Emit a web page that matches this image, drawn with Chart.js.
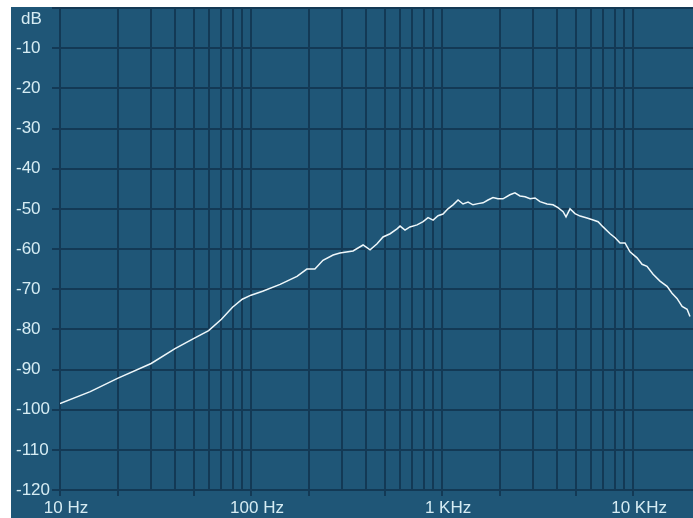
<!DOCTYPE html>
<html>
<head>
<meta charset="utf-8">
<script src="https://cdn.jsdelivr.net/npm/chart.js@4.4.1/dist/chart.umd.min.js"></script>
<style>
  html, body { margin: 0; padding: 0; background: #fff; }
  #wrap { position: absolute; left: 11px; top: 7px; width: 682px; height: 511px; }
</style>
</head>
<body>
<div id="wrap"><canvas id="spectrum" width="682" height="511" style="width:682px;height:511px"></canvas></div>
<script>
// frequency (Hz) / level (dB)
var freqs = [10, 14.4, 20, 30, 40, 50, 60, 70, 80, 90,
  100, 115, 142, 174, 196, 216, 238, 269, 292, 342,
  386, 420, 457, 491, 535, 581, 603, 640, 679, 740,
  796, 845, 898, 953, 1012, 1074, 1142, 1213, 1288, 1368,
  1453, 1543, 1640, 1741, 1849, 1963, 2085, 2267, 2408, 2559,
  2722, 2891, 3069, 3258, 3548, 3811, 4046, 4303, 4457, 4677,
  4966, 5284, 5741, 6180, 6561, 6966, 7586, 8054, 8551, 9078,
  9638, 10495, 11143, 11830, 12735, 13836, 15070, 15996, 16982, 18072,
  19187, 19861];
var levels = [-98.5, -95.5, -92.2, -88.5, -84.8, -82.3, -80.3, -77.5, -74.5, -72.5,
  -71.5, -70.5, -68.8, -66.8, -65, -65, -62.8, -61.5, -61, -60.5,
  -59, -60.2, -58.7, -57, -56.2, -55, -54.3, -55.3, -54.5, -54,
  -53.2, -52.2, -52.8, -51.7, -51.3, -50, -49, -47.8, -48.8, -48.3,
  -49, -48.7, -48.5, -47.8, -47.2, -47.5, -47.5, -46.5, -46, -46.8,
  -47, -47.5, -47.3, -48.2, -48.8, -49, -49.7, -50.7, -52, -50,
  -51.2, -51.8, -52.3, -52.8, -53.2, -54.5, -56.2, -57.2, -58.5, -58.5,
  -60.7, -62.2, -63.8, -64.3, -66.3, -68, -69.3, -71, -72.3, -74.3,
  -75, -76.8];

var gridFreqs = [10, 20, 30, 40, 50, 60, 70, 80, 90,
  100, 200, 300, 400, 500, 600, 700, 800, 900,
  1000, 2000, 3000, 4000, 5000, 6000, 7000, 8000, 9000, 10000];
var freqLabels = { 10: '10 Hz', 100: '100 Hz', 1000: '1 KHz', 10000: '10 KHz' };

var BG = '#1f5677';
var GRID = '#133955';
var TXT = '#d6ecf3';
var FONT = '"Liberation Sans", Arial, sans-serif';

var points = freqs.map(function (f, i) { return { x: f, y: levels[i] }; });

var background = {
  id: 'background',
  beforeDraw: function (chart) {
    var c = chart.ctx;
    c.save();
    c.fillStyle = BG;
    c.fillRect(0, 0, chart.width, chart.height);
    c.restore();
  },
  afterDraw: function (chart) {
    var y = chart.scales.y;
    var c = chart.ctx;
    c.save();
    c.font = '17px ' + FONT;
    c.fillStyle = TXT;
    c.textAlign = 'left';
    c.textBaseline = 'middle';
    c.fillText('dB', y.left + 5, y.top + 11);
    c.restore();
  }
};

new Chart(document.getElementById('spectrum').getContext('2d'), {
  type: 'line',
  data: {
    datasets: [{
      data: points,
      borderColor: '#eef7fa',
      borderWidth: 1.5,
      pointRadius: 0,
      tension: 0,
      fill: false
    }]
  },
  options: {
    responsive: false,
    animation: false,
    layout: { padding: { top: 1, right: 0, left: 5, bottom: 0 } },
    plugins: { legend: { display: false }, tooltip: { enabled: false } },
    scales: {
      x: {
        type: 'logarithmic',
        min: 10,
        max: 20600,
        afterBuildTicks: function (scale) {
          scale.ticks = gridFreqs.map(function (v) { return { value: v }; });
        },
        afterFit: function (scale) {
          scale.height = 28;
          scale.paddingLeft = 0;
          scale.paddingRight = 0;
        },
        grid: {
          color: GRID,
          lineWidth: 2,
          tickLength: 6,
          tickWidth: 2,
          tickColor: function (ctx) {
            var v = ctx.tick ? ctx.tick.value : 0;
            var s = Math.round(v / Math.pow(10, Math.floor(Math.log10(v) + 1e-9)));
            return (s === 1 || s === 2 || s === 5) ? GRID : 'rgba(0,0,0,0)';
          }
        },
        border: { display: false },
        ticks: {
          autoSkip: false,
          maxRotation: 0,
          padding: 2,
          labelOffset: 6,
          color: TXT,
          font: { family: FONT, size: 17 },
          callback: function (v) { return freqLabels[v] || ''; }
        }
      },
      y: {
        min: -120,
        max: 0,
        afterFit: function (scale) {
          scale.width = 44;
          scale.paddingTop = 0;
          scale.paddingBottom = 0;
        },
        grid: { color: GRID, lineWidth: 2, tickLength: 8, tickWidth: 2, tickColor: GRID },
        border: { display: false },
        ticks: {
          stepSize: 10,
          crossAlign: 'far',
          color: TXT,
          font: { family: FONT, size: 17 },
          callback: function (v) { return v === 0 ? '' : v; }
        }
      }
    }
  },
  plugins: [background]
});
</script>
</body>
</html>
